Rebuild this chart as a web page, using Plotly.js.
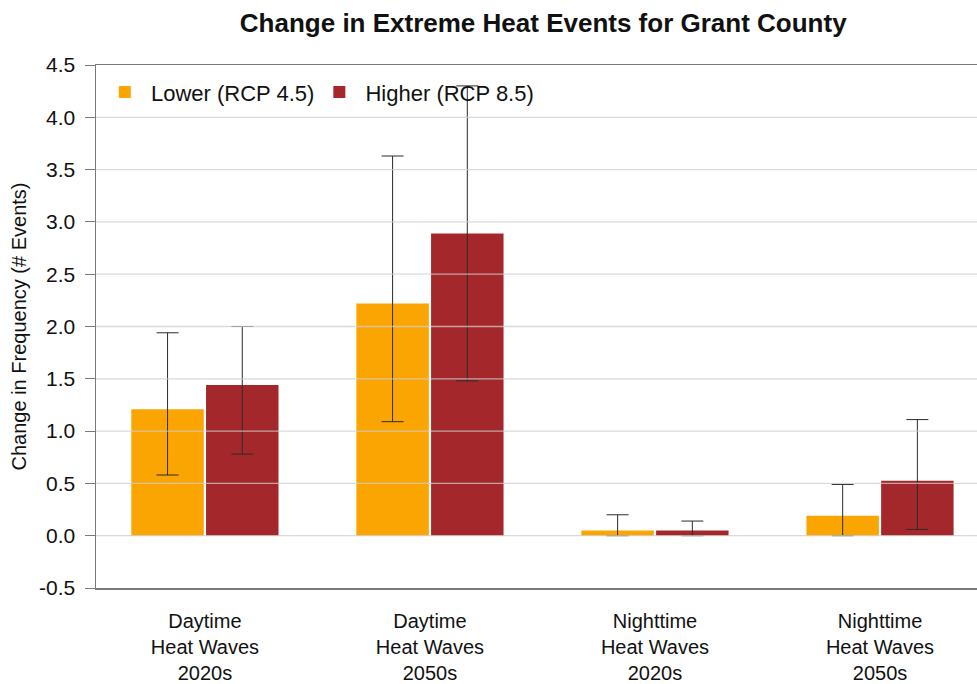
<!DOCTYPE html>
<html>
<head>
<meta charset="utf-8">
<script src="https://cdn.plot.ly/plotly-3.0.1.min.js"></script>
<style>html,body{margin:0;padding:0;background:#fff;}#chart{width:977px;height:684px;}</style>
</head>
<body>
<div id="chart"></div>
<script>
const categories = ["Daytime<br>Heat Waves<br>2020s", "Daytime<br>Heat Waves<br>2050s", "Nighttime<br>Heat Waves<br>2020s", "Nighttime<br>Heat Waves<br>2050s"];
const seriesNames = ["Lower (RCP 4.5)", "Higher (RCP 8.5)"];
const lowerValues = [1.21, 2.22, 0.05, 0.19];
const lowerHigh = [1.94, 3.63, 0.20, 0.49];
const lowerLow = [0.58, 1.09, 0.00, 0.00];
const higherValues = [1.44, 2.89, 0.05, 0.525];
const higherHigh = [2.00, 4.30, 0.14, 1.11];
const higherLow = [0.78, 1.48, 0.00, 0.06];
const yTicks = [-0.5, 0.0, 0.5, 1.0, 1.5, 2.0, 2.5, 3.0, 3.5, 4.0, 4.5];

const xIdx = categories.map((c, i) => i);
function errs(vals, hi, lo) {
  return {
    type: 'data', symmetric: false,
    array: vals.map((v, i) => hi[i] - v),
    arrayminus: vals.map((v, i) => v - lo[i]),
    color: '#2b2b2b', thickness: 1, width: 11
  };
}

const traces = [
  {
    type: 'bar', name: '\u00a0' + seriesNames[0], x: xIdx, y: lowerValues,
    marker: {color: '#FBA503', line: {width: 0}},
    error_y: errs(lowerValues, lowerHigh, lowerLow)
  },
  {
    type: 'bar', name: '\u00a0' + seriesNames[1], x: xIdx, y: higherValues,
    marker: {color: '#A4282B', line: {width: 0}},
    error_y: errs(higherValues, higherHigh, higherLow)
  }
];

const gridShapes = yTicks.filter(t => t > -0.5 && t < 4.5).map(t => ({
  type: 'line', xref: 'paper', yref: 'y', x0: 0, x1: 1, y0: t, y1: t,
  line: {color: 'rgba(205,205,205,0.75)', width: 1.3}, layer: 'above'
}));

const layout = {
  width: 977, height: 684,
  margin: {l: 96, r: 0, t: 65, b: 96},
  paper_bgcolor: '#ffffff', plot_bgcolor: '#ffffff',
  font: {family: 'Liberation Sans, Arial, sans-serif', color: '#111111'},
  title: {
    text: '<b>Change in Extreme Heat Events for Grant County</b>',
    font: {family: 'Liberation Sans, Arial, sans-serif', size: 26, color: '#111111'},
    x: 0.556, xanchor: 'center', y: 0.967, yanchor: 'middle'
  },
  barmode: 'group', bargap: 0.336, bargroupgap: 0.03,
  showlegend: true,
  legend: {
    orientation: 'h', x: 0.01, y: 0.988, xanchor: 'left', yanchor: 'top',
    bgcolor: 'rgba(0,0,0,0)', font: {size: 22, color: '#111111'},
    traceorder: 'normal', itemwidth: 30
  },
  xaxis: {
    range: [-0.484, 3.431], tickmode: 'array', tickvals: xIdx, ticktext: categories,
    showgrid: false, zeroline: false, showline: true, mirror: true,
    linecolor: '#7a7a7a', linewidth: 1.5, ticks: '', ticklabelstandoff: 14,
    tickfont: {size: 20, color: '#111111'}, fixedrange: true, automargin: false
  },
  yaxis: {
    range: [-0.5, 4.5], tickmode: 'array', tickvals: yTicks,
    ticktext: yTicks.map(v => v.toFixed(1)),
    showgrid: false, zeroline: false, showline: true, linecolor: '#7a7a7a', linewidth: 1.5,
    ticks: 'outside', ticklen: 10, tickcolor: '#7a7a7a', tickwidth: 1, ticklabelstandoff: 5,
    tickfont: {size: 21, color: '#111111'},
    title: {text: 'Change in Frequency (# Events)', font: {size: 20, color: '#111111'}, standoff: 7},
    fixedrange: true, automargin: false
  },
  shapes: gridShapes
};

Plotly.newPlot('chart', traces, layout, {displayModeBar: false, staticPlot: true});
</script>
</body>
</html>
